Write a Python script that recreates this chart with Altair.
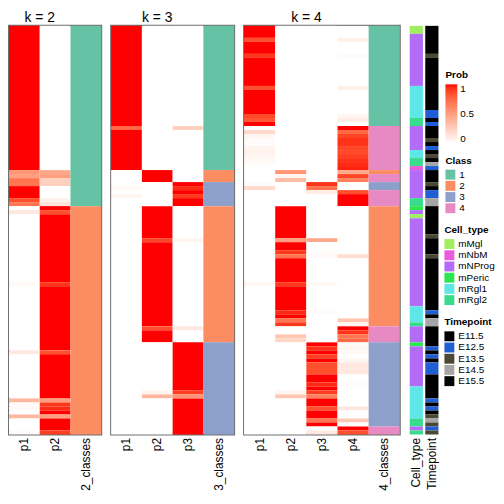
import altair as alt
import pandas as pd

N_ROWS = 102
FONT = "Liberation Sans"

# ---- membership probabilities, as (value, number of consecutive samples) ----
K2_P1 = [(1, 36), (0.55, 1), (0.5, 1), (0.7, 2), (1, 3), (0.85, 1), (0.7, 1), (0, 1), (0.12, 1),
         (0, 17), (0.03, 1), (0, 16), (0.12, 1), (0, 11), (0.38, 1), (0.03, 1), (0.04, 1), (0, 1),
         (0.38, 1), (0, 3), (0.02, 1)]
K2_P2 = [(0, 36), (0.45, 1), (0.5, 1), (0.25, 2), (0, 3), (0.07, 1), (0.15, 1), (1, 1), (0.85, 1),
         (1, 17), (0.93, 1), (1, 16), (0.85, 1), (1, 11), (0.5, 1), (0.92, 1), (0.95, 1), (1, 1),
         (0.5, 1), (1, 3), (0.9, 1)]
K2_CLASS = [("1", 45), ("2", 57)]

K3_P1 = [(1, 25), (0.75, 1), (1, 10), (0, 4), (0.03, 1), (0, 1), (0.05, 1), (0, 59)]
K3_P2 = [(0, 36), (1, 3), (0, 6), (1, 8), (0.88, 1), (1, 21), (0.85, 1), (1, 3), (0, 12),
         (0.06, 1), (0.38, 1), (0, 9)]
K3_P3 = [(0, 25), (0.25, 1), (0, 13), (1, 1), (0.95, 1), (1, 1), (0.92, 1), (1, 2), (0, 8),
         (0.05, 1), (0, 21), (0.12, 1), (0, 3), (1, 12), (0.9, 1), (0.55, 1), (1, 9)]
K3_CLASS = [("1", 36), ("2", 3), ("3", 6), ("2", 34), ("3", 23)]

K4_P1 = [(1, 3), (0.85, 1), (1, 3), (0.92, 1), (1, 7), (0.85, 1), (1, 6), (0.87, 1), (0.82, 1),
         (1, 1), (0, 1), (0.2, 1), (0.05, 1), (0.02, 2), (0.06, 1), (0.07, 1), (0.05, 1), (0.04, 1),
         (0.02, 1), (0, 4), (0.02, 1), (0.2, 1), (0, 23), (0.04, 1), (0, 37)]
K4_P2 = [(0, 36), (0.55, 1), (0.06, 1), (0.35, 1), (0, 6), (1, 8), (0.5, 1), (1, 2), (0.92, 1),
         (0.7, 1), (1, 6), (0.92, 1), (1, 6), (0.95, 1), (1, 1), (0.7, 1), (0.92, 1), (0, 2),
         (0.3, 1), (0.22, 1), (0, 12), (0.05, 1), (0.3, 1), (0, 9)]
K4_P3 = [(0, 39), (0.93, 1), (0.72, 1), (0.1, 1), (0, 11), (0.45, 1), (0, 2), (0.02, 1), (0.03, 1),
         (0, 6), (0.04, 1), (0, 6), (0.02, 1), (0, 7), (1, 1), (0.93, 1), (1, 1), (0.9, 1), (1, 1),
         (0.85, 3), (1, 2), (0.95, 1), (1, 1), (0.9, 1), (0.65, 1), (1, 2), (0.85, 1), (1, 2),
         (0.7, 1), (1, 1), (0, 1), (0.12, 1)]
K4_P4 = [(0, 3), (0.08, 1), (0, 3), (0.02, 1), (0, 7), (0.08, 1), (0, 6), (0.06, 1), (0.1, 1),
         (0, 1), (1, 1), (0.75, 1), (0.88, 1), (0.93, 2), (0.88, 1), (0.87, 1), (0.9, 1), (0.93, 1),
         (0.95, 1), (0.97, 1), (0.45, 1), (0.88, 1), (0.65, 1), (0, 2), (0.85, 1), (1, 3), (0, 12),
         (0.18, 1), (0, 15), (0.3, 1), (0.05, 1), (1, 1), (0.93, 1), (0.7, 1), (0.75, 1), (0.02, 1),
         (0.05, 1), (0.03, 1), (0, 1), (0.05, 1), (0.12, 3), (0, 2), (0.02, 1), (0, 5), (0.12, 1),
         (0, 2), (0.28, 1), (0, 1), (1, 1), (0.85, 1)]
K4_CLASS = [("1", 25), ("4", 11), ("2", 1), ("4", 2), ("3", 2), ("4", 4), ("2", 30), ("4", 4),
            ("3", 21), ("4", 2)]

# ---- sample annotations ----
CELL_TYPE = [("mMgl", 2), ("mNProg", 13), ("mRgl1", 8), ("mRgl2", 2), ("mNProg", 6), ("mRgl1", 2),
             ("mRgl2", 2), ("mNbM", 1), ("mNProg", 7), ("mRgl2", 2), ("mPeric", 1), ("mNProg", 1),
             ("mMgl", 1), ("mNProg", 22), ("mRgl1", 4), ("mRgl2", 1), ("mNProg", 4), ("mPeric", 1),
             ("mNProg", 10), ("mRgl1", 8), ("mRgl2", 2), ("mNProg", 1), ("mRgl2", 1)]
TIMEPOINT = [("E11.5", 7), ("E13.5", 1), ("E11.5", 13), ("E12.5", 2), ("E11.5", 1), ("E12.5", 1),
             ("E11.5", 3), ("E13.5", 1), ("E11.5", 1), ("E12.5", 1), ("E11.5", 1), ("E13.5", 1),
             ("E11.5", 1), ("E14.5", 1), ("E12.5", 1), ("E11.5", 3), ("E13.5", 1), ("E11.5", 1),
             ("E12.5", 2), ("E14.5", 2), ("E11.5", 7), ("E13.5", 1), ("E11.5", 4), ("E13.5", 1),
             ("E11.5", 13), ("E12.5", 1), ("E11.5", 1), ("E14.5", 2), ("E11.5", 5), ("E12.5", 1),
             ("E11.5", 1), ("E12.5", 1), ("E11.5", 1), ("E12.5", 3), ("E11.5", 6), ("E12.5", 1),
             ("E11.5", 1), ("E12.5", 1), ("E11.5", 1), ("E13.5", 1), ("E14.5", 1), ("E13.5", 1),
             ("E12.5", 1), ("E13.5", 1)]

CLASS_LEVELS = ["1", "2", "3", "4"]
CLASS_COLORS = ["#66c2a5", "#fc8d62", "#8da0cb", "#e78ac3"]
CELL_LEVELS = ["mMgl", "mNbM", "mNProg", "mPeric", "mRgl1", "mRgl2"]
CELL_COLORS = ["#a0ee60", "#ea5cdc", "#b36cf7", "#2ae64f", "#5fe6e6", "#38dc8c"]
TIME_LEVELS = ["E11.5", "E12.5", "E13.5", "E14.5", "E15.5"]
TIME_COLORS = ["#000000", "#1f5fd3", "#4b4835", "#a6a6a6", "#050808"]


def segments(runs, col, field):
    out, start = [], 0
    for value, n in runs:
        out.append({"col": col, "y0": start, "y1": start + n, field: value})
        start += n
    assert start == N_ROWS, (col, start)
    return out


Y_SCALE = alt.Scale(domain=[0, N_ROWS], reverse=True, nice=False, zero=False)
PROB_SCALE = alt.Scale(domain=[0, 1], range=["#ffffff", "#ff0000"], interpolate="lab")


def x_enc(cols, inner=0.0):
    return alt.X("col:N", sort=cols, title=None,
                 scale=alt.Scale(domain=cols, paddingInner=inner, paddingOuter=0),
                 axis=alt.Axis(labelAngle=270, labelAlign="right", labelBaseline="middle",
                               ticks=False, domain=False, labelPadding=3, labelFontSize=12,
                               labelFont=FONT, labelColor="black"))


def legend_kw():
    return dict(titleFontSize=10, titleFont=FONT, titleFontWeight="bold", titleColor="black",
                labelFontSize=10, labelFont=FONT, labelColor="black", titlePadding=4)


def symbol_legend(title, lx, ly):
    return alt.Legend(title=title, orient="none", legendX=lx, legendY=ly,
                      symbolType="square", symbolSize=100, symbolStrokeWidth=0,
                      rowPadding=1.3, labelOffset=4, **legend_kw())


def panel(k, probs, classes, width, show_legend):
    cols = [f"p{i + 1}" for i in range(k)] + [f"{k}_classes"]
    prob_rows = []
    for i, runs in enumerate(probs):
        prob_rows += segments(runs, f"p{i + 1}", "prob")
    prob_df = pd.DataFrame(prob_rows)
    class_df = pd.DataFrame(segments(classes, f"{k}_classes", "cls"))

    if show_legend:
        prob_legend = alt.Legend(title="Prob", orient="none", legendX=203, legendY=45,
                                 direction="vertical", gradientLength=60, gradientThickness=12,
                                 values=[0, 0.5, 1], format="~g", gradientStrokeWidth=0,
                                 labelOffset=3, **legend_kw())
        class_legend = symbol_legend("Class", 203, 131)
    else:
        prob_legend = None
        class_legend = None

    prob_layer = alt.Chart(prob_df).mark_rect().encode(
        x=x_enc(cols),
        y=alt.Y("y0:Q", scale=Y_SCALE, axis=None),
        y2="y1:Q",
        color=alt.Color("prob:Q", scale=PROB_SCALE, legend=prob_legend),
    )
    class_layer = alt.Chart(class_df).mark_rect().encode(
        x=x_enc(cols),
        y=alt.Y("y0:Q", scale=Y_SCALE, axis=None),
        y2="y1:Q",
        fill=alt.Fill("cls:N", scale=alt.Scale(domain=CLASS_LEVELS, range=CLASS_COLORS),
                      legend=class_legend),
    )
    return alt.layer(prob_layer, class_layer).properties(
        width=width, height=412,
        title=alt.TitleParams(f"k = {k}", fontSize=14, fontWeight="normal", font=FONT,
                              color="black", anchor="middle", dx=-15.5, offset=1),
    )


k2 = panel(2, [K2_P1, K2_P2], K2_CLASS, 93, False)
k3 = panel(3, [K3_P1, K3_P2, K3_P3], K3_CLASS, 124, False)
k4 = panel(4, [K4_P1, K4_P2, K4_P3, K4_P4], K4_CLASS, 157, True)

ANN_COLS = ["Cell_type", "Timepoint"]
cell_df = pd.DataFrame(segments(CELL_TYPE, "Cell_type", "cell"))
time_df = pd.DataFrame(segments(TIMEPOINT, "Timepoint", "time"))

cell_layer = alt.Chart(cell_df).mark_rect().encode(
    x=x_enc(ANN_COLS, 0.15),
    y=alt.Y("y0:Q", scale=Y_SCALE, axis=None),
    y2="y1:Q",
    color=alt.Color("cell:N", scale=alt.Scale(domain=CELL_LEVELS, range=CELL_COLORS),
                    legend=symbol_legend("Cell_type", 35, 201)),
)
time_layer = alt.Chart(time_df).mark_rect().encode(
    x=x_enc(ANN_COLS, 0.15),
    y=alt.Y("y0:Q", scale=Y_SCALE, axis=None),
    y2="y1:Q",
    fill=alt.Fill("time:N", scale=alt.Scale(domain=TIME_LEVELS, range=TIME_COLORS),
                  legend=symbol_legend("Timepoint", 35, 294)),
)
annot = alt.layer(cell_layer, time_layer).properties(
    width=29, height=412, view=alt.ViewBackground(stroke="transparent"))

chart = (
    alt.hconcat(k2, k3, k4, annot, spacing=10, bounds="flush")
    .resolve_scale(color="independent", fill="independent")
    .properties(padding=0)
    .configure(font=FONT)
    .configure_view(stroke="#707070", strokeWidth=2)
)

chart.save("out.html", embed_options={"renderer": "svg", "actions": False})
